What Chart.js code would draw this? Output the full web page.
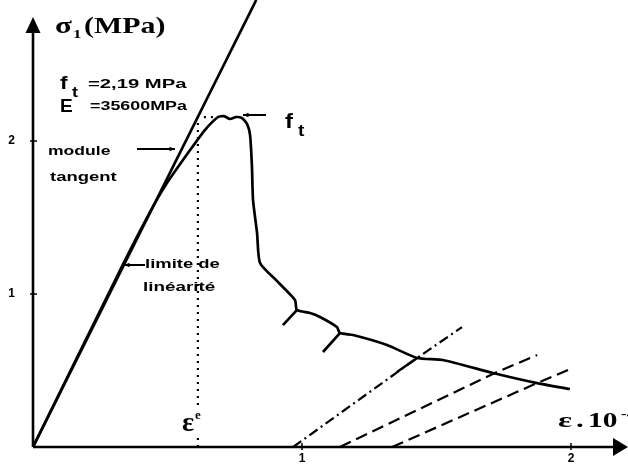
<!DOCTYPE html>
<html><head><meta charset="utf-8">
<script src="https://cdn.jsdelivr.net/npm/chart.js@4.4.0/dist/chart.umd.min.js"></script>
<style>html,body{margin:0;padding:0;background:#fff}#wrap{width:628px;height:468px;position:relative}</style>
</head><body><div id="wrap"><canvas id="c" width="628" height="468"></canvas></div>
<script>
// ---- data (strain in 10^-4, stress in MPa) ----
const xTickValues = [1, 2];
const xTickLabels = ['1', '2'];
const yTickValues = [1, 2];
const yTickLabels = ['1', '2'];
const xMax = 2.212, yMax = 2.922;

const elasticStrain = [0, 0.83];
const elasticStress = [0, 2.922];

const curveStrain = [0, 0.335, 0.435, 0.498, 0.584, 0.639, 0.688, 0.710, 0.732, 0.755, 0.777, 0.796, 0.807, 0.814, 0.818, 0.833, 0.844, 0.911, 0.974, 0.981, 1.030, 1.067, 1.130, 1.141, 1.190, 1.316, 1.428, 1.524, 1.710, 1.874, 1.996];
const curveStress = [0, 1.196, 1.536, 1.725, 1.941, 2.072, 2.157, 2.163, 2.144, 2.157, 2.150, 2.111, 2.039, 1.830, 1.614, 1.399, 1.203, 1.078, 0.961, 0.895, 0.876, 0.850, 0.784, 0.745, 0.732, 0.667, 0.582, 0.569, 0.484, 0.418, 0.379];

const branchAStrain = [0.981, 0.929], branchAStress = [0.895, 0.797];
const branchBStrain = [1.141, 1.078], branchBStress = [0.745, 0.621];

const peakDotStrain = [0.613, 0.613, 0.688];
const peakDotStress = [0, 2.157, 2.157];

const unload1Strain = [0.967, 1.428, 1.595], unload1Stress = [0, 0.582, 0.784];
const unload1SolidStrain = [1.353, 1.428], unload1SolidStress = [0.490, 0.582];
const unload2Strain = [1.141, 1.717, 1.874], unload2Stress = [0, 0.484, 0.601];
const unload3Strain = [1.335, 1.874, 2.007], unload3Stress = [0, 0.418, 0.516];

const pts = (xs, ys) => xs.map((x, i) => ({x, y: ys[i]}));
const ds = (xs, ys, w, dash, tension) => ({
  data: pts(xs, ys), showLine: true, borderColor: '#000', borderWidth: w,
  borderDash: dash || [], pointRadius: 0, tension: tension || 0, fill: false
});

function txt(ctx, s, x, y, font, sx, align) {
  ctx.save(); ctx.font = font; ctx.fillStyle = '#000';
  ctx.translate(x, y); ctx.scale(sx || 1, 1);
  ctx.textAlign = align || 'left'; ctx.textBaseline = 'alphabetic';
  ctx.fillText(s, 0, 0); ctx.restore();
}
function arrow(ctx, x1, y1, x2, y2, head) {
  ctx.save(); ctx.strokeStyle = '#000'; ctx.fillStyle = '#000'; ctx.lineWidth = 2;
  ctx.beginPath(); ctx.moveTo(x1, y1); ctx.lineTo(x2, y2); ctx.stroke();
  const a = Math.atan2(y2 - y1, x2 - x1), h = head || 6;
  ctx.beginPath(); ctx.moveTo(x2, y2);
  ctx.lineTo(x2 - h * Math.cos(a - 0.4), y2 - h * Math.sin(a - 0.4));
  ctx.lineTo(x2 - h * Math.cos(a + 0.4), y2 - h * Math.sin(a + 0.4));
  ctx.closePath(); ctx.fill(); ctx.restore();
}

const overlay = {
  id: 'overlay',
  afterDraw(chart) {
    const ctx = chart.ctx, xs = chart.scales.x, ys = chart.scales.y;
    const x0 = xs.getPixelForValue(0), y0 = ys.getPixelForValue(0);
    ctx.save();
    ctx.strokeStyle = '#000'; ctx.fillStyle = '#000'; ctx.lineWidth = 2.6;
    // axes
    ctx.beginPath(); ctx.moveTo(x0, y0); ctx.lineTo(x0, 30); ctx.stroke();
    ctx.beginPath(); ctx.moveTo(x0 - 7.5, 33); ctx.lineTo(x0 + 7.5, 33); ctx.lineTo(x0, 17); ctx.closePath(); ctx.fill();
    ctx.beginPath(); ctx.moveTo(x0, y0); ctx.lineTo(616, y0); ctx.stroke();
    ctx.beginPath(); ctx.moveTo(613, y0 - 9); ctx.lineTo(613, y0 + 9); ctx.lineTo(628, y0); ctx.closePath(); ctx.fill();
    // tick marks
    ctx.lineWidth = 1.5;
    yTickValues.forEach(v => { const p = ys.getPixelForValue(v); ctx.beginPath(); ctx.moveTo(x0 - 3, p); ctx.lineTo(x0 + 4, p); ctx.stroke(); });
    xTickValues.forEach(v => { const p = xs.getPixelForValue(v); ctx.beginPath(); ctx.moveTo(p, y0 - 4); ctx.lineTo(p, y0 + 3); ctx.stroke(); });
    ctx.restore();

    // title
    txt(ctx, 'σ', 55, 33, 'bold 23px "Liberation Serif"', 1.35);
    txt(ctx, '1', 73, 38, 'bold 13px "Liberation Serif"', 1.3);
    txt(ctx, '(MPa)', 84, 33, 'bold 23px "Liberation Serif"', 1.3);
    // ft / E
    txt(ctx, 'f', 60, 89, 'bold 19px "Liberation Sans"', 1.2);
    txt(ctx, 't', 72, 97, 'bold 15px "Liberation Sans"', 1.2);
    txt(ctx, '=2,19 MPa', 88, 88, 'bold 12.5px "Liberation Sans"', 1.62);
    txt(ctx, 'E', 60, 112, 'bold 19px "Liberation Sans"', 1.0);
    txt(ctx, '=35600MPa', 90, 110, 'bold 12.5px "Liberation Sans"', 1.43);
    // module tangent
    txt(ctx, 'module', 48, 155, 'bold 13px "Liberation Sans"', 1.35);
    txt(ctx, 'tangent', 50, 181, 'bold 13px "Liberation Sans"', 1.42);
    arrow(ctx, 137, 149, 175, 149, 6);
    // limite de linéarité
    txt(ctx, 'limite de', 145, 268, 'bold 13px "Liberation Sans"', 1.42);
    txt(ctx, 'linéarité', 143, 291, 'bold 13px "Liberation Sans"', 1.45);
    arrow(ctx, 145, 265, 124, 265, 6);
    // peak ft
    arrow(ctx, 266, 115, 243, 115, 6);
    txt(ctx, 'f', 285, 128, 'bold 20px "Liberation Sans"', 1.2);
    txt(ctx, 't', 298, 136, 'bold 16px "Liberation Sans"', 1.2);
    // epsilon e
    ctx.save(); ctx.fillStyle = '#fff'; ctx.fillRect(181, 410, 24, 24); ctx.restore();
    txt(ctx, 'ε', 182, 431, 'bold 27px "Liberation Serif"', 1.05);
    txt(ctx, 'e', 195, 419, 'bold 13px "Liberation Serif"', 1.0);
    // x axis label
    txt(ctx, 'ε', 558, 427, 'bold 22px "Liberation Serif"', 1.5);
    txt(ctx, '.', 576, 427, 'bold 22px "Liberation Serif"', 1.4);
    txt(ctx, '10', 588, 427, 'bold 21px "Liberation Serif"', 1.4);
    txt(ctx, '-4', 621, 418, 'bold 13px "Liberation Serif"', 1.3);
  }
};

new Chart(document.getElementById('c'), {
  type: 'scatter',
  data: {
    datasets: [
      ds(elasticStrain, elasticStress, 2.7),
      ds(curveStrain, curveStress, 2.7, null, 0.2),
      ds(branchAStrain, branchAStress, 2.7),
      ds(branchBStrain, branchBStress, 2.7),
      ds(peakDotStrain, peakDotStress, 2.2, [2, 5]),
      ds(unload1Strain, unload1Stress, 2.2, [10, 4, 2, 4]),
      ds(unload1SolidStrain, unload1SolidStress, 2.4),
      ds(unload2Strain, unload2Stress, 2.2, [12, 6]),
      ds(unload3Strain, unload3Stress, 2.2, [12, 6])
    ]
  },
  options: {
    responsive: false, animation: false, devicePixelRatio: 1,
    layout: {padding: 0},
    plugins: {legend: {display: false}, tooltip: {enabled: false}},
    scales: {
      x: {
        type: 'linear', min: 0, max: xMax,
        afterFit(s) { s.height = 21; s.paddingLeft = 0; s.paddingRight = 0; },
        afterBuildTicks(s) { s.ticks = xTickValues.map(v => ({value: v})); },
        grid: {display: false, drawTicks: false}, border: {display: false},
        ticks: {padding: 4, color: '#000', font: {family: 'Liberation Sans', weight: 'bold', size: 12},
          callback: (v) => xTickLabels[xTickValues.indexOf(v)] ?? ''}
      },
      y: {
        type: 'linear', min: 0, max: yMax,
        afterFit(s) { s.width = 33; s.paddingTop = 0; s.paddingBottom = 0; },
        afterBuildTicks(s) { s.ticks = yTickValues.map(v => ({value: v})); },
        grid: {display: false, drawTicks: false}, border: {display: false},
        ticks: {padding: 18, color: '#000', font: {family: 'Liberation Sans', weight: 'bold', size: 12},
          callback: (v) => yTickLabels[yTickValues.indexOf(v)] ?? ''}
      }
    }
  },
  plugins: [overlay]
});
</script></body></html>
